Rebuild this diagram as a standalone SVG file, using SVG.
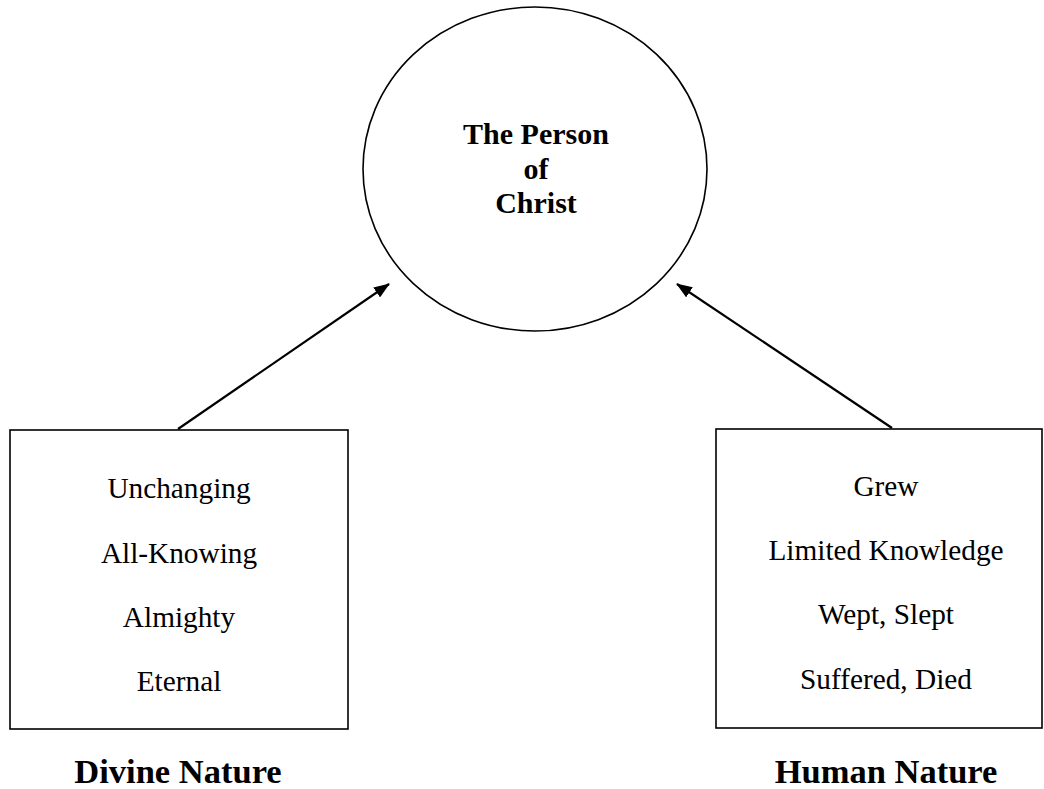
<svg xmlns="http://www.w3.org/2000/svg" width="1044" height="789" viewBox="0 0 1044 789">
<style>
.shape{fill:none;stroke:#000;stroke-width:1.6}
.item{font-family:"Liberation Serif",serif;font-size:29.3px;fill:#000;text-anchor:middle}
.bold{font-family:"Liberation Serif",serif;font-weight:bold;fill:#000;text-anchor:middle}
.conn{stroke:#000;stroke-width:2.2;fill:none}
</style>
<defs>
<marker id="arrow" markerWidth="16" markerHeight="12" refX="15" refY="6" orient="auto" markerUnits="userSpaceOnUse">
<path d="M0,0 L16,6 L0,12 Z" fill="#000"/>
</marker>
</defs>
<rect width="1044" height="789" fill="#fff"/>
<g id="person">
<ellipse class="shape" cx="535" cy="169" rx="172" ry="162"/>
<text class="bold" font-size="30" x="536" y="144">The Person</text>
<text class="bold" font-size="30" x="536" y="179">of</text>
<text class="bold" font-size="30" x="536" y="213">Christ</text>
</g>
<g id="divine">
<rect class="shape" x="10" y="430" width="338" height="299"/>
<text class="item" x="179" y="498">Unchanging</text>
<text class="item" x="179" y="563">All-Knowing</text>
<text class="item" x="179" y="627">Almighty</text>
<text class="item" x="179" y="691">Eternal</text>
<text class="bold" font-size="34.5" x="178" y="783">Divine Nature</text>
</g>
<g id="human">
<rect class="shape" x="716" y="429" width="326" height="299"/>
<text class="item" x="886" y="496">Grew</text>
<text class="item" x="886" y="560">Limited Knowledge</text>
<text class="item" x="886" y="624">Wept, Slept</text>
<text class="item" x="886" y="689">Suffered, Died</text>
<text class="bold" font-size="34.5" x="886" y="783">Human Nature</text>
</g>
<g id="connectors">
<line class="conn" x1="178" y1="429" x2="389" y2="284" marker-end="url(#arrow)"/>
<line class="conn" x1="892" y1="428" x2="677" y2="284" marker-end="url(#arrow)"/>
</g>
</svg>
